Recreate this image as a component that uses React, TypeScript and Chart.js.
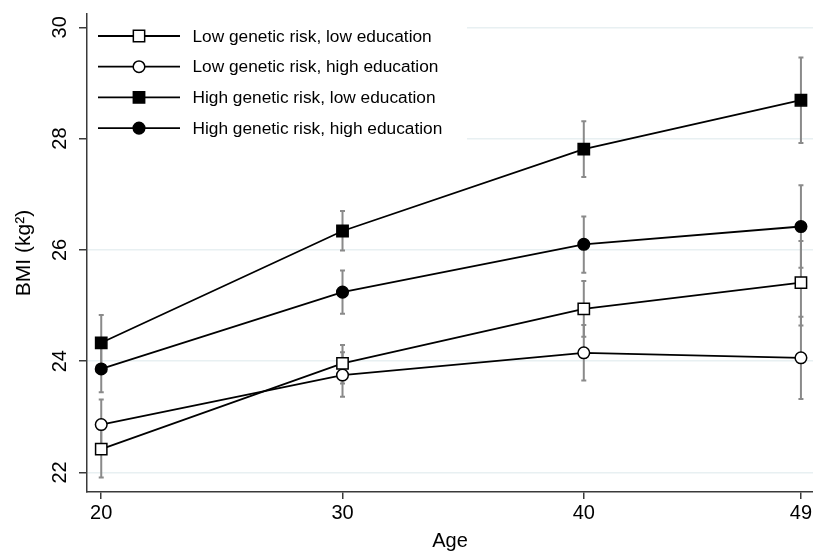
import React, { useEffect, useRef } from "react";
import { Chart, registerables } from "chart.js";

Chart.register(...registerables);

// ---- data ----
const ages = [20, 30, 40, 49];
const xTickValues = [20, 30, 40, 49];
const yTickValues = [22, 24, 26, 28, 30];

const seriesLabels = [
  "Low genetic risk, low education",
  "Low genetic risk, high education",
  "High genetic risk, low education",
  "High genetic risk, high education",
];

const lowRiskLowEdu = [22.42, 23.96, 24.94, 25.41];
const lowRiskLowEduLo = [21.91, 23.6, 24.44, 24.64];
const lowRiskLowEduHi = [22.93, 24.29, 25.44, 26.16];

const lowRiskHighEdu = [22.86, 23.75, 24.15, 24.06];
const lowRiskHighEduLo = [22.41, 23.36, 23.65, 23.32];
const lowRiskHighEduHi = [23.31, 24.16, 24.65, 24.8];

const highRiskLowEdu = [24.33, 26.34, 27.81, 28.69];
const highRiskLowEduLo = [23.83, 25.99, 27.31, 27.92];
const highRiskLowEduHi = [24.83, 26.7, 28.31, 29.46];

const highRiskHighEdu = [23.86, 25.24, 26.1, 26.42];
const highRiskHighEduLo = [23.44, 24.85, 25.59, 25.68];
const highRiskHighEduHi = [24.28, 25.63, 26.6, 27.16];

const xTitle = "Age";
const yTitle = "BMI (kg\u00B2)";

const FONT = "'Liberation Sans', Arial, Helvetica, sans-serif";

const seriesValues = [lowRiskLowEdu, lowRiskHighEdu, highRiskLowEdu, highRiskHighEdu];
const seriesLo = [lowRiskLowEduLo, lowRiskHighEduLo, highRiskLowEduLo, highRiskHighEduLo];
const seriesHi = [lowRiskLowEduHi, lowRiskHighEduHi, highRiskLowEduHi, highRiskHighEduHi];
const markerStyles = [
  { shape: "rect", fill: "#ffffff" },
  { shape: "circle", fill: "#ffffff" },
  { shape: "rect", fill: "#000000" },
  { shape: "circle", fill: "#000000" },
];

const RECT_R = 8;
const CIRC_R = 5.8;

const errorBarPlugin = {
  id: "errorBars",
  beforeDatasetsDraw(chart: any) {
    const { ctx, scales } = chart;
    const xs = scales.x;
    const ys = scales.y;
    ctx.save();
    ctx.strokeStyle = "#8a8a8a";
    ctx.lineWidth = 2;
    for (let s = 0; s < seriesValues.length; s++) {
      for (let i = 0; i < ages.length; i++) {
        const x = xs.getPixelForValue(ages[i]);
        const y1 = ys.getPixelForValue(seriesLo[s][i]);
        const y2 = ys.getPixelForValue(seriesHi[s][i]);
        ctx.beginPath();
        ctx.moveTo(x, y1);
        ctx.lineTo(x, y2);
        ctx.moveTo(x - 2.5, y1);
        ctx.lineTo(x + 2.5, y1);
        ctx.moveTo(x - 2.5, y2);
        ctx.lineTo(x + 2.5, y2);
        ctx.stroke();
      }
    }
    ctx.restore();
  },
};

const legendPlugin = {
  id: "insideLegend",
  afterDraw(chart: any) {
    const { ctx, chartArea } = chart;
    ctx.save();
    ctx.fillStyle = "#ffffff";
    ctx.fillRect(chartArea.left + 1, chartArea.top, 467 - chartArea.left - 1, 132);
    const rowY0 = chartArea.top + 22;
    const rowGap = 30.7;
    for (let s = 0; s < seriesLabels.length; s++) {
      const y = rowY0 + s * rowGap;
      ctx.strokeStyle = "#000000";
      ctx.lineWidth = 1.8;
      ctx.beginPath();
      ctx.moveTo(98, y);
      ctx.lineTo(180, y);
      ctx.stroke();
      const m = markerStyles[s];
      ctx.fillStyle = m.fill;
      ctx.lineWidth = 1.5;
      ctx.beginPath();
      if (m.shape === "rect") {
        const h = RECT_R * Math.SQRT1_2;
        ctx.rect(139 - h, y - h, 2 * h, 2 * h);
      } else {
        ctx.arc(139, y, CIRC_R, 0, Math.PI * 2);
      }
      ctx.fill();
      ctx.stroke();
      ctx.fillStyle = "#000000";
      ctx.font = `17.3px ${FONT}`;
      ctx.textAlign = "left";
      ctx.textBaseline = "middle";
      ctx.fillText(seriesLabels[s], 192.5, y + 1);
    }
    ctx.restore();
  },
};

export default function App() {
  const canvasRef = useRef<HTMLCanvasElement | null>(null);

  useEffect(() => {
    const canvas = canvasRef.current;
    if (!canvas) return;
    const datasets = seriesValues.map((vals, s) => ({
      label: seriesLabels[s],
      data: ages.map((a, i) => ({ x: a, y: vals[i] })),
      borderColor: "#000000",
      borderWidth: 1.8,
      backgroundColor: markerStyles[s].fill,
      pointStyle: markerStyles[s].shape,
      pointRadius: markerStyles[s].shape === "rect" ? RECT_R : CIRC_R,
      pointBackgroundColor: markerStyles[s].fill,
      pointBorderColor: "#000000",
      pointBorderWidth: 1.5,
      showLine: true,
      fill: false,
      tension: 0,
    }));

    const chart = new Chart(canvas, {
      type: "scatter",
      data: { datasets },
      options: {
        responsive: false,
        animation: false,
        devicePixelRatio: 1,
        layout: { autoPadding: false, padding: { top: 14, right: 0, left: 0, bottom: 0 } },
        plugins: {
          legend: { display: false },
          tooltip: { enabled: false },
        },
        scales: {
          x: {
            type: "linear",
            min: 19.41,
            max: 49.5,
            afterBuildTicks: (scale: any) => {
              scale.ticks = xTickValues.map((v) => ({ value: v }));
            },
            afterFit: (scale: any) => {
              scale.height = 62;
              scale.paddingRight = 0;
              scale.paddingLeft = 0;
            },
            ticks: {
              color: "#000000",
              font: { family: FONT, size: 20 },
              padding: 2,
              maxRotation: 0,
              autoSkip: false,
            },
            grid: {
              drawOnChartArea: false,
              tickLength: 7,
              tickColor: "#3a3a3a",
              lineWidth: 1.5,
            },
            border: { display: true, color: "#3a3a3a", width: 1.5 },
            title: {
              display: true,
              text: xTitle,
              color: "#000000",
              font: { family: FONT, size: 20 },
              padding: { top: 0, bottom: 1 },
            },
          },
          y: {
            type: "linear",
            min: 21.648,
            max: 30.24,
            afterBuildTicks: (scale: any) => {
              scale.ticks = yTickValues.map((v) => ({ value: v }));
            },
            afterFit: (scale: any) => {
              scale.width = 87;
              scale.paddingTop = 0;
              scale.paddingBottom = 0;
            },
            ticks: {
              color: "#000000",
              font: { family: FONT, size: 20 },
              minRotation: 90,
              maxRotation: 90,
              crossAlign: "center",
              padding: 7,
              autoSkip: false,
            },
            grid: {
              color: "#e8f0f2",
              lineWidth: 1.5,
              tickLength: 8,
              tickColor: "#3a3a3a",
            },
            border: { display: true, color: "#3a3a3a", width: 1.5 },
            title: {
              display: true,
              text: yTitle,
              color: "#000000",
              font: { family: FONT, size: 21 },
              padding: { top: 12, bottom: 0 },
            },
          },
        },
      } as any,
      plugins: [errorBarPlugin, legendPlugin],
    });
    return () => chart.destroy();
  }, []);

  return (
    <div style={{ position: "absolute", left: 0, top: 0, width: 813, height: 554, background: "#ffffff" }}>
      <canvas ref={canvasRef} width={813} height={554} style={{ display: "block", width: 813, height: 554 }} />
    </div>
  );
}
